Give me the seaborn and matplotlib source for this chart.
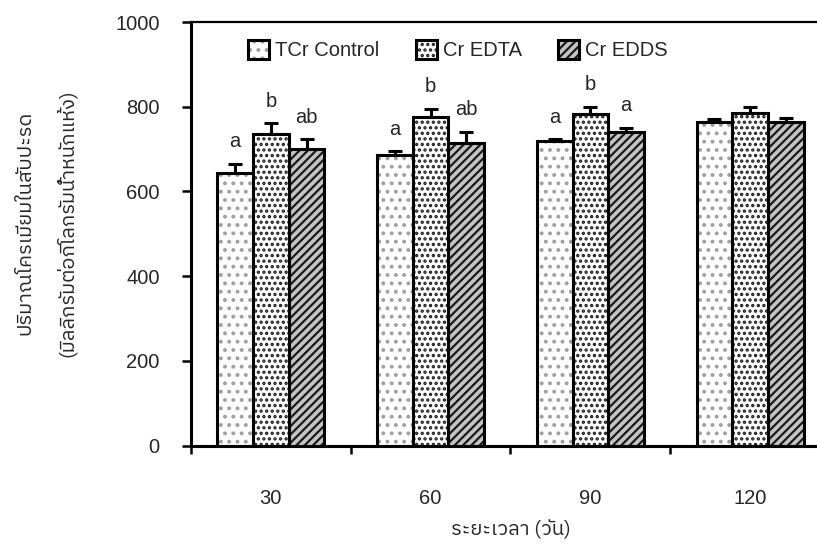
import numpy as np
import pandas as pd
import matplotlib
matplotlib.use("Agg")
import matplotlib.pyplot as plt
from matplotlib import font_manager
from matplotlib.ft2font import FT2Font
from matplotlib.patches import Patch, Rectangle
from matplotlib.legend_handler import HandlerTuple
import seaborn as sns

# ---- data -------------------------------------------------------------
days = ["30", "60", "90", "120"]
treatments = ["TCr Control", "Cr EDTA", "Cr EDDS"]
control_mean = [644, 686, 720, 764]
edta_mean = [736, 775, 783, 786]
edds_mean = [700, 715, 741, 763]
control_se = [21, 9, 3, 6]
edta_se = [25, 20, 17, 14]
edds_se = [23, 26, 10, 10]
control_letters = ["a", "a", "a", ""]
edta_letters = ["b", "b", "b", ""]
edds_letters = ["ab", "ab", "a", ""]
y_ticks = [0, 200, 400, 600, 800, 1000]
y_title = "ปริมาณโครเมียมในสับปะรด"
y_unit = "(มิลลิกรัมต่อกิโลกรัมน้ำหนักแห้ง)"
x_title = "ระยะเวลา (วัน)"

means = [control_mean, edta_mean, edds_mean]
ses = [control_se, edta_se, edds_se]
letters = [control_letters, edta_letters, edds_letters]

df = pd.DataFrame({
    "day": np.repeat([days], 3, axis=0).ravel(),
    "treatment": np.repeat(treatments, len(days)),
    "value": np.concatenate(means),
})

# ---- fonts ------------------------------------------------------------
def covers_thai(path):
    try:
        return 0x0E01 in FT2Font(path).get_charmap()
    except Exception:
        return False

thai_fonts = []
for fe in font_manager.fontManager.ttflist:
    if fe.name not in thai_fonts and covers_thai(fe.fname):
        thai_fonts.append(fe.name)
preferred = [n for n in thai_fonts if "Thai" in n] + thai_fonts
thai_family = preferred[0] if preferred else "DejaVu Sans"

sns.set_theme(style="white")
plt.rcParams["font.family"] = ["Liberation Sans", thai_family, "DejaVu Sans"]
plt.rcParams["hatch.linewidth"] = 1.6
TXT = "#262626"
FS = 14.5
THAI = [thai_family, "Liberation Sans"]

# ---- figure -----------------------------------------------------------
fig = plt.figure(figsize=(8.17, 5.5), dpi=100)
ax = fig.add_axes([191 / 817, 104.3 / 550, 639 / 817, 423.7 / 550])

sns.barplot(data=df, x="day", y="value", hue="treatment", order=days,
            hue_order=treatments, errorbar=None, width=0.67, gap=0,
            palette=["white"] * 3, legend=False, ax=ax)
bar_containers = list(ax.containers)

styles = [
    dict(face="white", hatch="..", hcol="#a0a0a0"),
    dict(face="white", hatch="...", hcol="#1e1e1e"),
    dict(face="#c4c4c4", hatch="////", hcol="#1a1a1a"),
]

for i, cont in enumerate(bar_containers):
    st = styles[i]
    xs, tops = [], []
    for bar in cont.patches:
        bar.set_facecolor(st["face"])
        bar.set_edgecolor(st["hcol"])
        bar.set_hatch(st["hatch"])
        bar.set_linewidth(0)
        ax.add_patch(Rectangle(bar.get_xy(), bar.get_width(), bar.get_height(),
                               fill=False, edgecolor="black", linewidth=2.2,
                               zorder=bar.get_zorder() + 0.1))
        xs.append(bar.get_x() + bar.get_width() / 2)
        tops.append(bar.get_height())
    err = np.array(ses[i])
    ax.errorbar(xs, tops, yerr=[np.zeros_like(err), err], fmt="none",
                ecolor="black", elinewidth=2.2, capsize=5, capthick=2.2,
                zorder=1)
    for x, t, e, lab in zip(xs, tops, err, letters[i]):
        if lab:
            ax.annotate(lab, (x, t + e), xytext=(0, 12), textcoords="offset points",
                        ha="center", va="baseline", fontsize=FS, color=TXT)

# ---- axes -------------------------------------------------------------
ax.set_ylim(0, 1000)
ax.set_xlim(-0.5, 3.5)
ax.set_yticks(y_ticks)
ax.set_yticklabels([str(v) for v in y_ticks], fontsize=FS, color=TXT)
ax.set_xticks(range(len(days)))
ax.set_xticklabels(days, fontsize=FS, color=TXT)
ax.set_xticks(np.arange(-0.5, len(days) + 0.5, 1), minor=True)
ax.tick_params(axis="x", which="major", length=0, pad=31)
ax.tick_params(axis="x", which="minor", direction="out", length=6, width=1.8,
               color="black", bottom=True)
ax.tick_params(axis="y", direction="out", length=6.5, width=1.8, color="black",
               pad=16, left=True)

for side in ["left", "bottom", "top"]:
    ax.spines[side].set_visible(True)
    ax.spines[side].set_color("black")
ax.spines["left"].set_linewidth(2.2)
ax.spines["bottom"].set_linewidth(2.2)
ax.spines["top"].set_linewidth(1.6)
ax.spines["right"].set_visible(False)

ax.set_xlabel(x_title, fontsize=FS, color=TXT, family=THAI, labelpad=9)
ax.set_ylabel("")

# two-line vertical axis title
ax.text(-0.260, 0.526, y_title, rotation=90, transform=ax.transAxes,
        ha="center", va="center", fontsize=FS, color=TXT, family=THAI)
ax.text(-0.194, 0.526, y_unit, rotation=90, transform=ax.transAxes,
        ha="center", va="center", fontsize=FS, color=TXT, family=THAI)

# ---- legend -----------------------------------------------------------
handles = []
for st in styles:
    fill = Patch(facecolor=st["face"], edgecolor=st["hcol"], hatch=st["hatch"],
                 linewidth=0)
    edge = Patch(facecolor="none", edgecolor="black", linewidth=2.2)
    handles.append((fill, edge))
ax.legend(handles, treatments, handler_map={tuple: HandlerTuple(ndivide=1)},
          loc="upper left", bbox_to_anchor=(0.089, 0.957), ncol=3,
          frameon=False, borderaxespad=0, borderpad=0, handlelength=1.05,
          handleheight=1.05, handletextpad=0.3, columnspacing=1.8,
          prop={"size": FS}, labelcolor=TXT)

fig.savefig("out.png", dpi=100)
